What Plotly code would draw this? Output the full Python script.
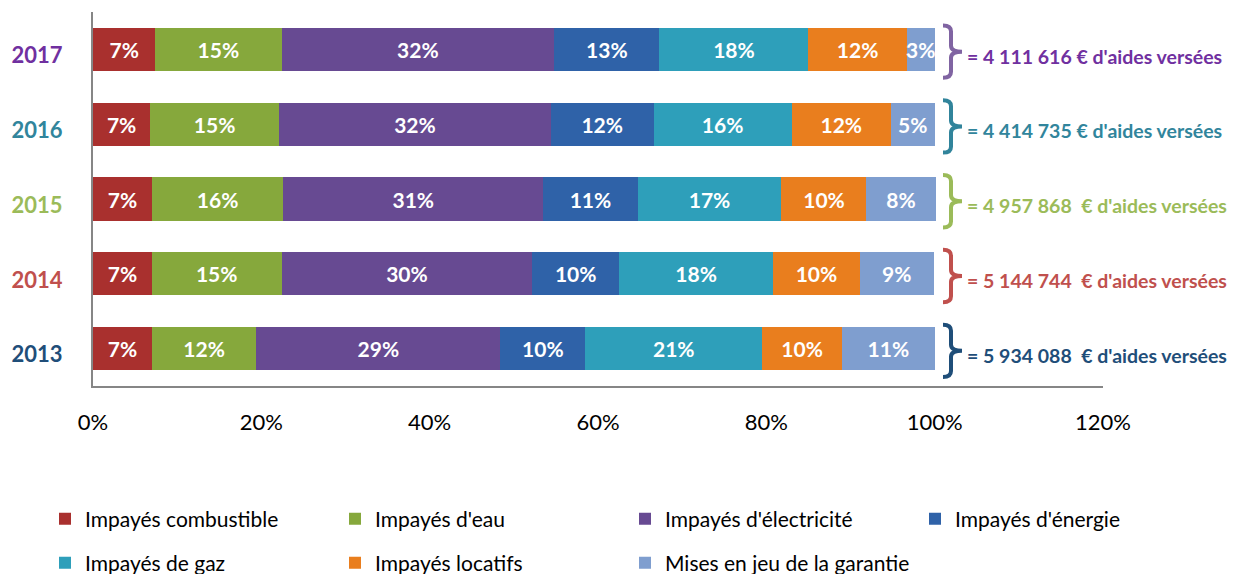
import plotly.graph_objects as go

# categories, bottom to top
years = ["2013", "2014", "2015", "2016", "2017"]
year_colors = ["#1F4E79", "#C0504D", "#9BBB59", "#31859C", "#7030A0"]
brace_colors = ["#1F4E79", "#C0504D", "#9BBB59", "#31849B", "#8064A2"]

series = [
    "Impayés combustible",
    "Impayés d'eau",
    "Impayés d'électricité",
    "Impayés d'énergie",
    "Impayés de gaz",
    "Impayés locatifs",
    "Mises en jeu de la garantie",
]
colors = ["#A9302E", "#86A83C", "#674A92", "#2F62A8", "#2E9FBA", "#E97E1E", "#7F9ECF"]

# shares, years 2013..2017
combustible = [0.070, 0.070, 0.070, 0.068, 0.074]
eau = [0.124, 0.154, 0.156, 0.153, 0.150]
electricite = [0.290, 0.298, 0.309, 0.323, 0.324]
energie = [0.101, 0.103, 0.112, 0.122, 0.125]
gaz = [0.210, 0.183, 0.171, 0.164, 0.177]
locatifs = [0.095, 0.103, 0.101, 0.118, 0.117]
garantie = [0.110, 0.088, 0.082, 0.052, 0.033]

# labels printed on the bars
lbl_combustible = ["7%", "7%", "7%", "7%", "7%"]
lbl_eau = ["12%", "15%", "16%", "15%", "15%"]
lbl_electricite = ["29%", "30%", "31%", "32%", "32%"]
lbl_energie = ["10%", "10%", "11%", "12%", "13%"]
lbl_gaz = ["21%", "18%", "17%", "16%", "18%"]
lbl_locatifs = ["10%", "10%", "10%", "12%", "12%"]
lbl_garantie = ["11%", "9%", "8%", "5%", "3%"]

totals = ["5 934 088  €", "5 144 744  €", "4 957 868  €", "4 414 735 €", "4 111 616 €"]

values = [combustible, eau, electricite, energie, gaz, locatifs, garantie]
labels = [lbl_combustible, lbl_eau, lbl_electricite, lbl_energie, lbl_gaz, lbl_locatifs, lbl_garantie]

# the page body adds an 8px margin, so the figure is 8px smaller
OFF = 8
W, H = 1237 - OFF, 574 - OFF
ML, MR = 0, 10
MT = 12 - OFF
MB = H - (386 - OFF)


def px(x):
    # screen x -> paper x
    return (x - OFF - ML) / (W - ML - MR)


def py(y):
    # screen y -> paper y
    return (H - MB - (y - OFF)) / (H - MT - MB)


fig = go.Figure()
for i, (name, vals, txt, col) in enumerate(zip(series, values, labels, colors)):
    fig.add_trace(go.Bar(
        y=years, x=vals, name=name, orientation="h",
        marker=dict(color=col, line=dict(width=0)),
        text=txt, textposition="inside", insidetextanchor="middle",
        textangle=0, constraintext="none",
        textfont=dict(color="white", size=21, family="Lato", weight="bold"),
        width=0.58, hoverinfo="name+x",
        legend="legend" if i < 4 else "legend2",
    ))

# braces and totals on the right
x0, x1, x2 = px(943), px(951), px(962)
for i, (total, bcol, tcol) in enumerate(zip(totals, brace_colors, year_colors)):
    cy = i - 0.03
    top, bot, ry = cy + 0.35, cy - 0.35, 0.08
    path = (f"M {x0},{top} Q {x1},{top} {x1},{top - ry} L {x1},{cy + ry} "
            f"Q {x1},{cy} {x2},{cy} Q {x1},{cy} {x1},{cy - ry} "
            f"L {x1},{bot + ry} Q {x1},{bot} {x0},{bot}")
    fig.add_shape(type="path", path=path, xref="paper", yref="y",
                  line=dict(color=bcol, width=4))
    fig.add_annotation(x=px(965), y=i - 0.09, xref="paper", yref="y",
                       xanchor="left", yanchor="middle", showarrow=False,
                       text=f"= {total} d'aides versées",
                       font=dict(color=tcol, size=19.5, family="Lato", weight="bold"))

legend_common = dict(orientation="h", x=px(45), xanchor="left", yanchor="middle",
                     entrywidth=245, traceorder="normal", font=dict(size=21),
                     itemclick=False, itemdoubleclick=False)

fig.update_layout(
    width=W, height=H,
    barmode="stack",
    plot_bgcolor="white", paper_bgcolor="white",
    margin=dict(l=ML, r=MR, t=MT, b=MB, autoexpand=False),
    font=dict(family="Lato", color="black"),
    showlegend=True,
    legend=dict(y=py(519), **legend_common),
    legend2=dict(y=py(563), **legend_common),
)
fig.update_xaxes(
    domain=[px(93), px(1103)], range=[0, 1.2], dtick=0.2, tickformat=".0%",
    showgrid=False, zeroline=False, showline=True, linecolor="#868686", linewidth=2,
    ticks="", ticklabelstandoff=16, tickfont=dict(size=22),
)
fig.update_yaxes(
    range=[-0.5, 4.5], showgrid=False, showline=True, linecolor="#868686", linewidth=2,
    ticks="", tickvals=years,
    ticktext=[f"<span style='color:{c}'><b>{y}</b></span>" for y, c in zip(years, year_colors)],
    tickfont=dict(size=22), ticklabelstandoff=24, ticklabelshift=6,
)

fig.write_html("out.html")
